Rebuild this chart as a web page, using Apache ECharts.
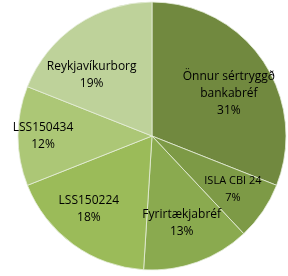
<!DOCTYPE html>
<html><head><meta charset="utf-8">
<script src="https://cdn.jsdelivr.net/npm/echarts@6/dist/echarts.min.js"></script>
<style>html,body{margin:0;padding:0;background:#fff}#c{width:288px;height:276px}</style>
</head><body><div id="c"></div>
<script>
const categories = ['Önnur sértryggð\nbankabréf', 'ISLA CBI 24', 'Fyrirtækjabréf', 'LSS150224', 'LSS150434', 'Reykjavíkurborg'];
const values = [31, 7, 13, 18, 12, 19];
const colors = ['#71893f', '#7d9a46', '#8aaa4f', '#9bbb59', '#acc776', '#bed29a'];
const labelOffsets = [[19, -3], [23, 14], [6, 21], [-22, 16], [-39, 0], [-21, -3]];
const labelSizes = [12, 11, 12, 12, 12, 12];

const chart = echarts.init(document.getElementById('c'), null, {renderer: 'canvas'});
chart.setOption({
  animation: false,
  series: [{
    type: 'pie',
    center: [152, 136],
    radius: [0, 134],
    startAngle: 90,
    clockwise: true,
    avoidLabelOverlap: false,
    labelLayout: {hideOverlap: false},
    itemStyle: {borderColor: '#e6eddb', borderWidth: 0.8},
    label: {
      show: true,
      position: 'inside',
      color: '#000',
      fontFamily: 'Open Sans',
      fontSize: 12,
      lineHeight: 17,
      formatter: p => p.name + '\n' + p.value + '%'
    },
    labelLine: {show: false},
    data: categories.map((n, i) => ({
      name: n, value: values[i],
      itemStyle: {color: colors[i]},
      label: {offset: labelOffsets[i], fontSize: labelSizes[i]}
    }))
  }]
});
</script></body></html>
